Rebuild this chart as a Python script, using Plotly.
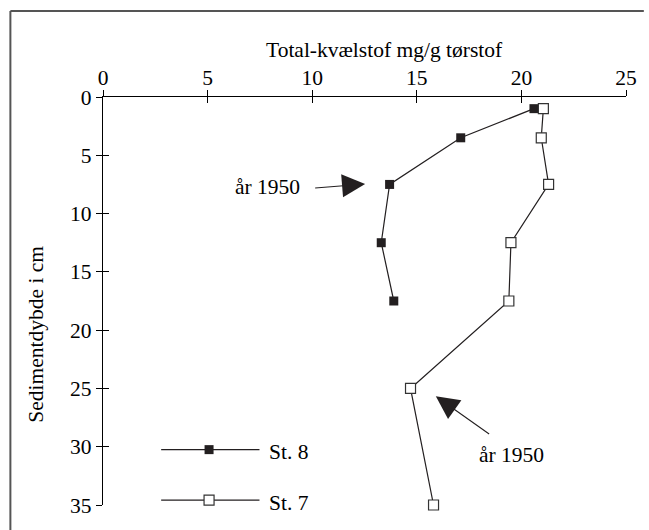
import plotly.graph_objects as go

# Data
depth_st8 = [1, 3.5, 7.5, 12.5, 17.5]
n_st8 = [20.6, 17.1, 13.7, 13.3, 13.9]
depth_st7 = [1, 3.5, 7.5, 12.5, 17.5, 25, 35]
n_st7 = [21.05, 20.95, 21.3, 19.5, 19.4, 14.7, 15.8]
x_ticks = [0, 5, 10, 15, 20, 25]
y_ticks = [0, 5, 10, 15, 20, 25, 30, 35]

FONT = "Liberation Serif"
INK = "#231f20"
FS = 21.5

fig = go.Figure()

fig.add_trace(go.Scatter(
    x=n_st8, y=depth_st8, mode="lines+markers", name="St. 8",
    line=dict(color=INK, width=1.2),
    marker=dict(symbol="square", size=9, color=INK),
    cliponaxis=False, showlegend=False, hoverinfo="skip"))
fig.add_trace(go.Scatter(
    x=n_st7, y=depth_st7, mode="lines+markers", name="St. 7",
    line=dict(color=INK, width=1.2),
    marker=dict(symbol="square", size=10, color="white", line=dict(color="#333", width=1.2)),
    cliponaxis=False, showlegend=False, hoverinfo="skip"))

# Custom legend samples
leg_x = [2.78, 7.48]
leg_mid = 5.07
for yy, filled in [(30.25, True), (34.58, False)]:
    fig.add_trace(go.Scatter(x=leg_x, y=[yy, yy], mode="lines",
                             line=dict(color=INK, width=1.2), cliponaxis=False,
                             showlegend=False, hoverinfo="skip"))
    if filled:
        mk = dict(symbol="square", size=9, color=INK)
    else:
        mk = dict(symbol="square", size=10, color="white", line=dict(color="#333", width=1.2))
    fig.add_trace(go.Scatter(x=[leg_mid], y=[yy], mode="markers", marker=mk,
                             cliponaxis=False, showlegend=False, hoverinfo="skip"))

# invisible trace for overlay axes
fig.add_trace(go.Scatter(x=[0], y=[0], xaxis="x2", yaxis="y2", mode="markers",
                         marker=dict(opacity=0), showlegend=False, hoverinfo="skip"))

annotations = [
    dict(text="Total-kvælstof mg/g tørstof", xref="paper", yref="paper",
         x=(387 - 103) / 528, y=(510 - 49) / 413, xanchor="center", yanchor="middle",
         showarrow=False, font=dict(family=FONT, size=FS, color="black")),
    dict(text="Sedimentdybde i cm", xref="paper", yref="paper",
         x=(35 - 103) / 528, y=(510 - 337) / 413, xanchor="center", yanchor="middle",
         textangle=-90, showarrow=False, font=dict(family=FONT, size=FS, color="black")),
    dict(text="år 1950", x=7.85, y=7.7, xanchor="center", yanchor="middle",
         showarrow=False, font=dict(family=FONT, size=FS, color="black")),
    dict(text="år 1950", x=19.51, y=30.7, xanchor="center", yanchor="middle",
         showarrow=False, font=dict(family=FONT, size=FS, color="black")),
    dict(text="St. 8", x=7.86, y=30.42, xanchor="left", yanchor="middle",
         showarrow=False, font=dict(family=FONT, size=FS, color="black")),
    dict(text="St. 7", x=7.86, y=34.8, xanchor="left", yanchor="middle",
         showarrow=False, font=dict(family=FONT, size=FS, color="black")),
    dict(text="", x=12.53, y=7.46, ax=10.07, ay=7.82, axref="x", ayref="y",
         showarrow=True, arrowhead=2, arrowwidth=1.1, arrowsize=4.2, arrowcolor=INK),
    dict(text="", x=15.91, y=25.68, ax=18.53, ay=29.0, axref="x", ayref="y",
         showarrow=True, arrowhead=2, arrowwidth=1.1, arrowsize=4.2, arrowcolor=INK),
]

shapes = [
    dict(type="line", xref="paper", yref="paper", x0=(9.5 - 103) / 528, x1=(9.5 - 103) / 528,
         y0=(510 - 540) / 413, y1=(510 - 10) / 413, line=dict(color="#555", width=2)),
    dict(type="line", xref="paper", yref="paper", x0=(9.5 - 103) / 528, x1=(649 - 103) / 528,
         y0=(510 - 10) / 413, y1=(510 - 10) / 413, line=dict(color="#555", width=2)),
]

axis_common = dict(showgrid=False, zeroline=False, showline=True, linecolor="black", linewidth=1.2,
                   tickcolor="black", tickwidth=1.2, ticklen=6)

fig.update_layout(
    width=649, height=530,
    margin=dict(l=103, r=18, t=97, b=20),
    paper_bgcolor="white", plot_bgcolor="white",
    font=dict(family=FONT, size=FS, color="black"),
    xaxis=dict(range=[0, 25], side="top", tickvals=x_ticks, ticktext=[str(v) for v in x_ticks],
               ticks="outside", ticklabelstandoff=-4,
               tickfont=dict(family=FONT, size=FS, color="black"), **axis_common),
    yaxis=dict(range=[35, 0], tickvals=y_ticks, ticktext=[str(v) for v in y_ticks],
               ticks="outside", tickfont=dict(family=FONT, size=FS, color="black"), **axis_common),
    xaxis2=dict(range=[0, 25], side="top", overlaying="x", anchor="y", tickvals=x_ticks,
                ticks="inside", showticklabels=False, **axis_common),
    yaxis2=dict(range=[35, 0], side="left", overlaying="y", anchor="x", tickvals=y_ticks,
                ticks="inside", showticklabels=False, **axis_common),
    annotations=annotations,
    shapes=shapes,
    showlegend=False,
)

fig.write_html("out.html", config={"displayModeBar": False},
               post_script="document.body.style.margin='0';document.body.style.overflow='hidden';")
